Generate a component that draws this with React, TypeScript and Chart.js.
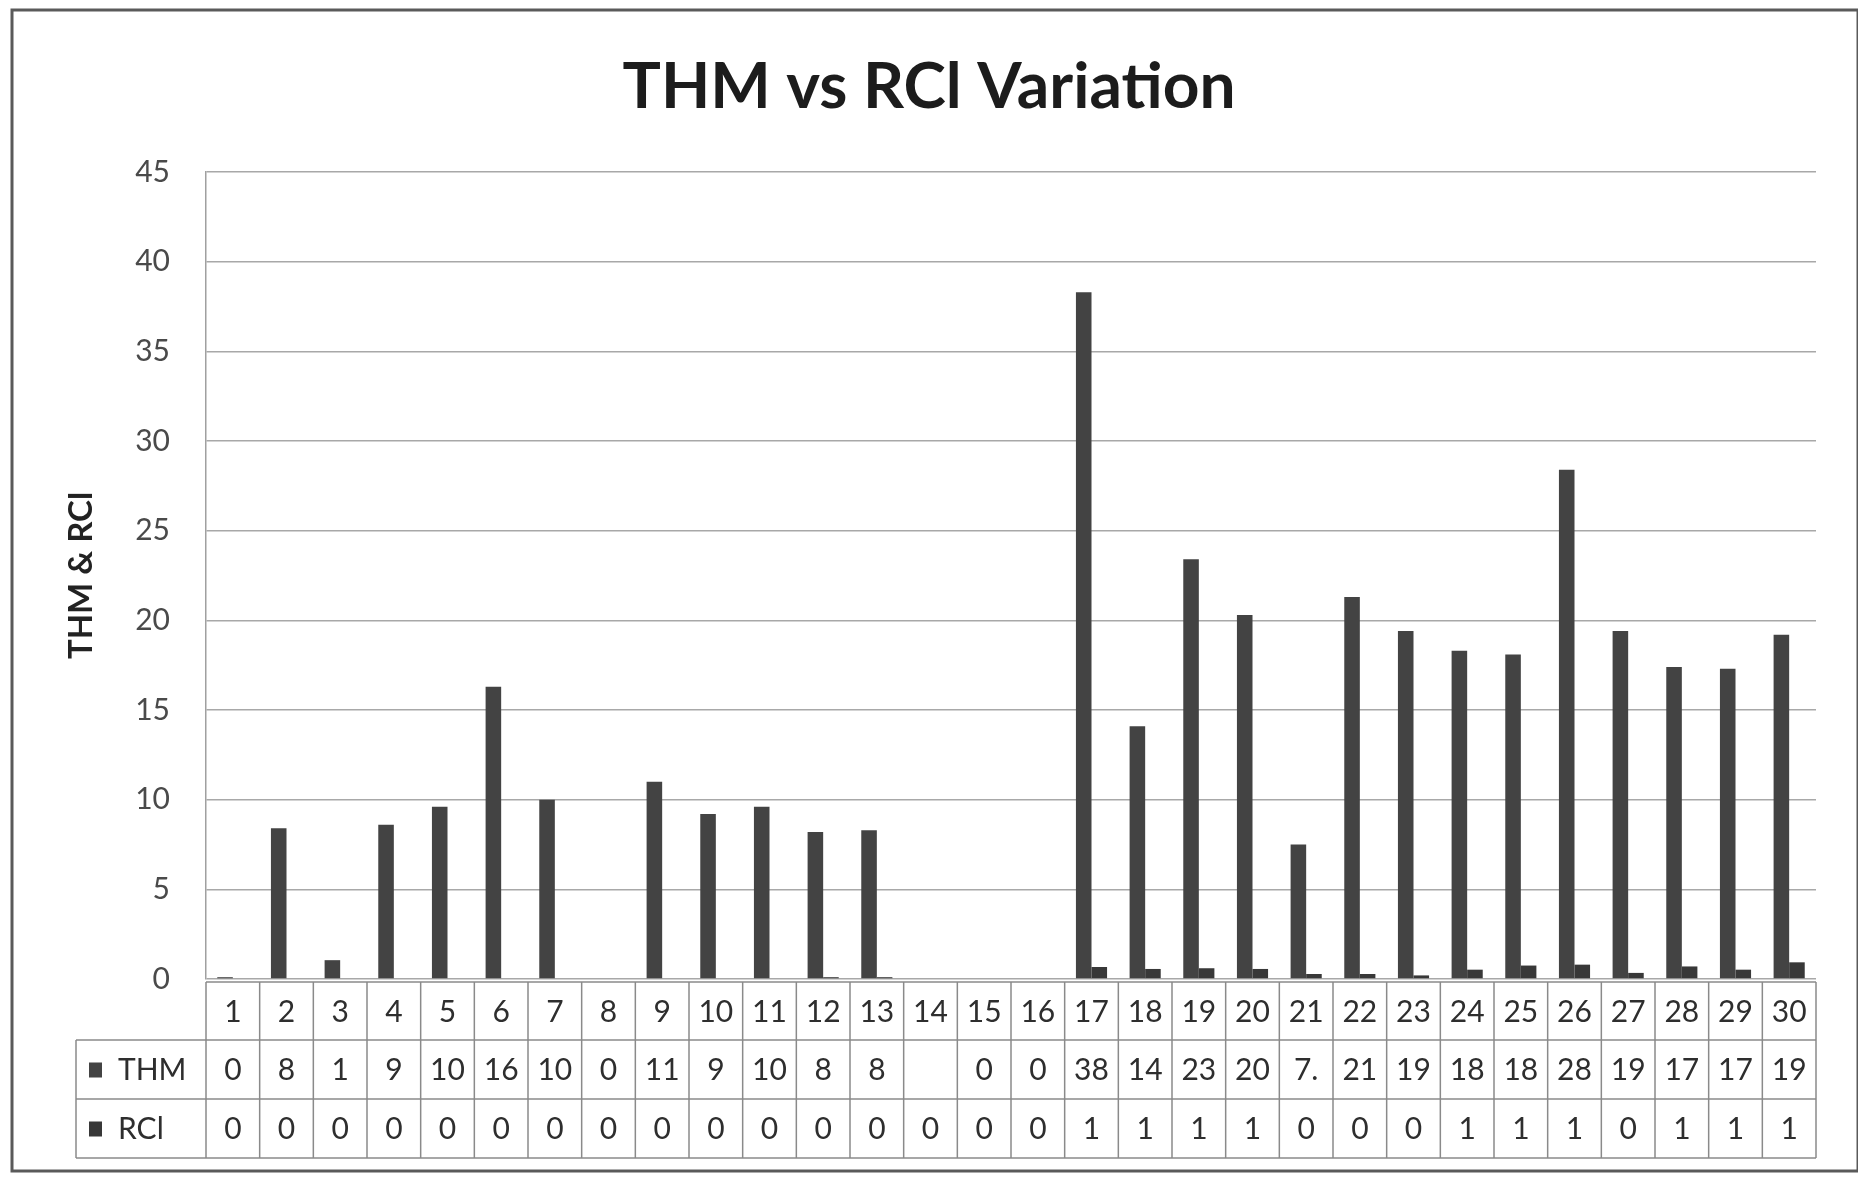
import React, { useEffect, useRef } from "react";
import { Chart, registerables } from "chart.js";

Chart.register(...registerables);

const categories = [
  "1", "2", "3", "4", "5", "6", "7", "8", "9", "10",
  "11", "12", "13", "14", "15", "16", "17", "18", "19", "20",
  "21", "22", "23", "24", "25", "26", "27", "28", "29", "30",
];

const thmValues: (number | null)[] = [
  0.1, 8.4, 1.05, 8.6, 9.6, 16.3, 10.0, 0, 11.0, 9.2,
  9.6, 8.2, 8.3, null, 0, 0, 38.3, 14.1, 23.4, 20.3,
  7.5, 21.3, 19.4, 18.3, 18.1, 28.4, 19.4, 17.4, 17.3, 19.2,
];

const rclValues: number[] = [
  0, 0, 0, 0, 0, 0, 0, 0, 0, 0,
  0, 0.1, 0.1, 0, 0, 0, 0.67, 0.56, 0.6, 0.56,
  0.28, 0.28, 0.2, 0.52, 0.75, 0.8, 0.34, 0.7, 0.52, 0.93,
];

const thmTableLabels = [
  "0", "8", "1", "9", "10", "16", "10", "0", "11", "9",
  "10", "8", "8", "", "0", "0", "38", "14", "23", "20",
  "7.", "21", "19", "18", "18", "28", "19", "17", "17", "19",
];

const rclTableLabels = [
  "0", "0", "0", "0", "0", "0", "0", "0", "0", "0",
  "0", "0", "0", "0", "0", "0", "1", "1", "1", "1",
  "0", "0", "0", "1", "1", "1", "0", "1", "1", "1",
];

const yTicks = { min: 0, max: 45, step: 5 };

const chartTitle = "THM vs RCl Variation";
const axisTitle = "THM & RCl";
const seriesNames = ["THM", "RCl"];
const seriesColors = ["#434343", "#383838"];

const FONT = "Lato, 'Open Sans', sans-serif";

const titlePlugin = {
  id: "customTitle",
  afterDraw(chart: any) {
    const ctx = chart.ctx as CanvasRenderingContext2D;
    ctx.save();
    ctx.fillStyle = "#1c1c1c";
    ctx.font = `bold 64px ${FONT}`;
    ctx.textAlign = "center";
    ctx.textBaseline = "alphabetic";
    ctx.fillText(chartTitle, 921, 100);
    ctx.restore();
  },
};

const tablePlugin = {
  id: "dataTable",
  afterDraw(chart: any) {
    const ctx = chart.ctx as CanvasRenderingContext2D;
    const area = chart.chartArea;
    const x = chart.scales.x;
    const n = categories.length;
    const w = (area.right - area.left) / n;
    const legendLeft = 68;
    const t0 = area.bottom + 3;
    const t1 = t0 + 58;
    const t2 = t1 + 59;
    const t3 = t2 + 59;

    ctx.save();
    ctx.strokeStyle = "#8a8a8a";
    ctx.lineWidth = 1.5;
    ctx.beginPath();
    ctx.moveTo(area.left, t0);
    ctx.lineTo(area.right, t0);
    [t1, t2, t3].forEach((t) => {
      ctx.moveTo(legendLeft, t);
      ctx.lineTo(area.right, t);
    });
    for (let i = 0; i <= n; i++) {
      const xx = area.left + i * w;
      ctx.moveTo(xx, t0);
      ctx.lineTo(xx, t3);
    }
    ctx.moveTo(legendLeft, t1);
    ctx.lineTo(legendLeft, t3);
    ctx.stroke();

    ctx.fillStyle = "#2e2e2e";
    ctx.font = `30px ${FONT}`;
    ctx.textAlign = "center";
    ctx.textBaseline = "middle";
    for (let i = 0; i < n; i++) {
      const cx = x.getPixelForValue(i);
      ctx.fillText(categories[i], cx, (t0 + t1) / 2 + 1);
      ctx.fillText(thmTableLabels[i], cx, (t1 + t2) / 2 + 1);
      ctx.fillText(rclTableLabels[i], cx, (t2 + t3) / 2 + 1);
    }

    const rows = [
      [t1, t2],
      [t2, t3],
    ];
    rows.forEach(([a, b], k) => {
      const cy = (a + b) / 2;
      ctx.fillStyle = seriesColors[k];
      ctx.fillRect(legendLeft + 13, cy - 7, 13, 15);
      ctx.fillStyle = "#2e2e2e";
      ctx.textAlign = "left";
      ctx.fillText(seriesNames[k], legendLeft + 42, cy + 1);
    });

    // outer chart border
    ctx.strokeStyle = "#5a5a5a";
    ctx.lineWidth = 3;
    ctx.strokeRect(4, 2, chart.width - 6, chart.height - 5);
    ctx.restore();
  },
};

export default function App() {
  const ref = useRef<HTMLCanvasElement | null>(null);

  useEffect(() => {
    if (!ref.current) return;
    const chart = new Chart(ref.current, {
      type: "bar",
      data: {
        labels: categories,
        datasets: [
          {
            label: seriesNames[0],
            data: thmValues,
            backgroundColor: seriesColors[0],
            categoryPercentage: 0.58,
            barPercentage: 1.0,
          },
          {
            label: seriesNames[1],
            data: rclValues,
            backgroundColor: seriesColors[1],
            categoryPercentage: 0.58,
            barPercentage: 1.0,
          },
        ],
      },
      options: {
        animation: false,
        responsive: false,
        maintainAspectRatio: false,
        layout: { padding: { left: 0, right: 44, top: 164, bottom: 195 } },
        plugins: {
          legend: { display: false },
          tooltip: { enabled: false },
          title: { display: false },
        },
        scales: {
          x: {
            display: false,
            grid: { display: false },
          },
          y: {
            min: yTicks.min,
            max: yTicks.max,
            afterFit: (s: any) => {
              s.width = 198;
            },
            ticks: {
              stepSize: yTicks.step,
              padding: 36,
              color: "#4a4a4a",
              font: { family: FONT, size: 30 },
            },
            grid: { color: "#a8a8a8", lineWidth: 1.5, drawTicks: false },
            border: { display: true, color: "#a0a0a0", width: 1.5 },
            title: {
              display: true,
              text: axisTitle,
              color: "#222222",
              font: { family: FONT, size: 33, weight: "bold", lineHeight: 1.2 },
              padding: { top: 54, bottom: 0 },
            },
          },
        },
      },
      plugins: [tablePlugin, titlePlugin],
    });
    return () => chart.destroy();
  }, []);

  return (
    <div>
      <canvas
        ref={ref}
        width={1852}
        height={1166}
        style={{ display: "block", width: "1852px", height: "1166px" }}
      />
    </div>
  );
}
